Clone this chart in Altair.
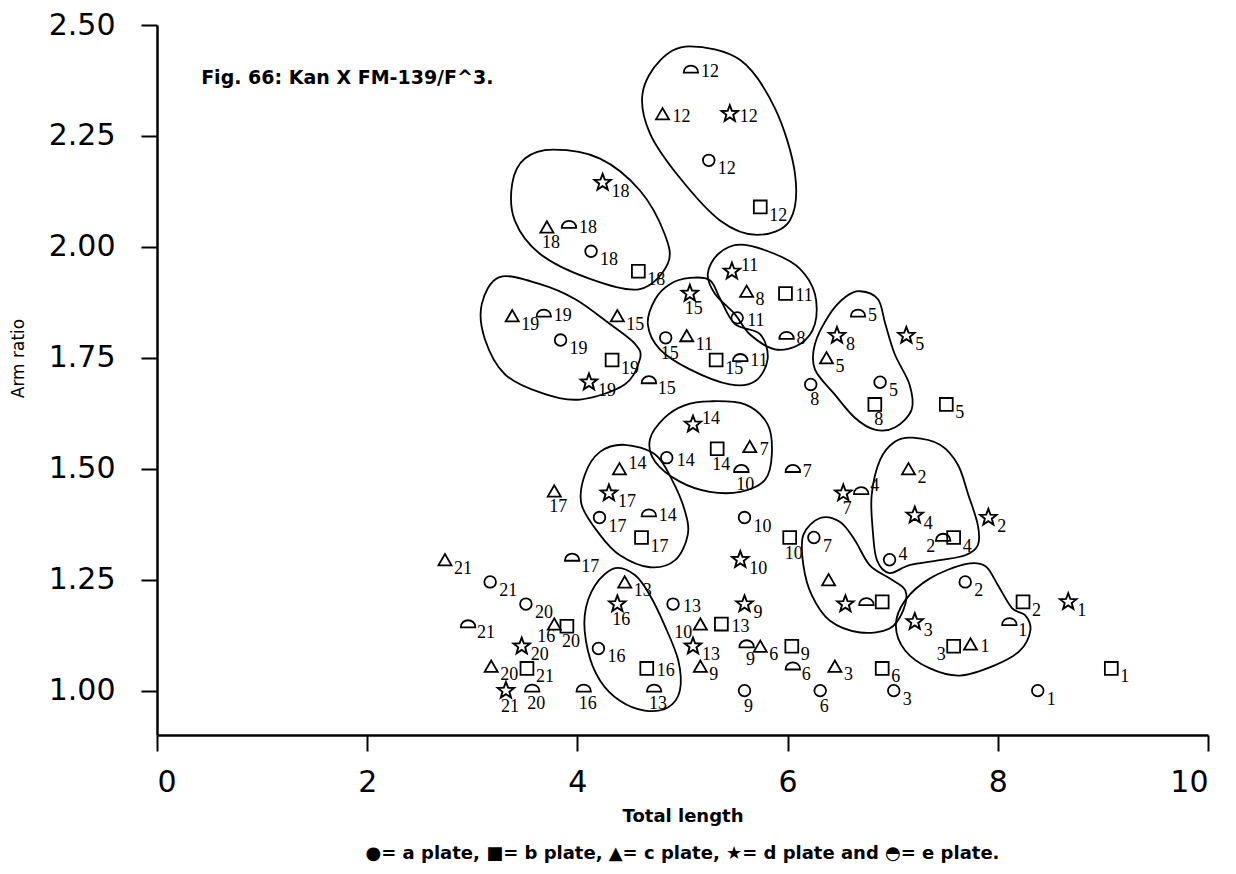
import altair as alt
import pandas as pd

# ---------------- data ----------------
NUMS = [str(i) for i in range(1, 22)]

# a plate (open circles), numbers 1..21
A_X = [8.38, 7.69, 7.01, 6.97, 6.88, 6.31, 6.25, 6.22, 5.59, 5.59, 5.52, 5.25, 4.91, 4.85, 4.84, 4.20, 4.21, 4.13, 3.84, 3.51, 3.17]
A_Y = [1.00, 1.245, 1.00, 1.295, 1.695, 1.00, 1.345, 1.69, 1.00, 1.39, 1.84, 2.195, 1.195, 1.525, 1.795, 1.095, 1.39, 1.99, 1.79, 1.195, 1.245]
A_L = NUMS

# b plate (open squares)
B_X = [9.08, 8.24, 7.58, 7.58, 7.51, 6.90, 6.90, 6.83, 6.04, 6.02, 5.98, 5.74, 5.37, 5.33, 5.32, 4.66, 4.61, 4.58, 4.33, 3.90, 3.52]
B_Y = [1.05, 1.20, 1.10, 1.345, 1.645, 1.05, 1.20, 1.645, 1.10, 1.345, 1.895, 2.09, 1.15, 1.545, 1.745, 1.05, 1.345, 1.945, 1.745, 1.145, 1.05]
B_L = ["1", "2", "3", "4", "5", "6", "", "8", "9", "10", "11", "12", "13", "14", "15", "16", "17", "18", "19", "20", "21"]

# c plate (open triangles)
C_X = [7.74, 7.15, 6.45, 6.39, 6.37, 5.74, 5.64, 5.61, 5.17, 5.17, 5.04, 4.81, 4.45, 4.40, 4.38, 3.78, 3.78, 3.71, 3.38, 3.18, 2.74]
C_Y = [1.105, 1.50, 1.055, 1.25, 1.75, 1.10, 1.55, 1.90, 1.055, 1.15, 1.80, 2.30, 1.245, 1.50, 1.845, 1.15, 1.45, 2.045, 1.845, 1.055, 1.295]
C_L = ["1", "2", "3", "", "5", "6", "7", "8", "9", "10", "11", "12", "13", "14", "15", "16", "17", "18", "19", "20", "21"]

# d plate (stars)
D_X = [8.67, 7.91, 7.21, 7.21, 7.13, 6.55, 6.53, 6.47, 5.59, 5.55, 5.47, 5.45, 5.10, 5.10, 5.07, 4.38, 4.30, 4.24, 4.11, 3.47, 3.32]
D_Y = [1.20, 1.39, 1.155, 1.395, 1.80, 1.195, 1.445, 1.80, 1.195, 1.295, 1.945, 2.30, 1.10, 1.60, 1.895, 1.195, 1.445, 2.145, 1.695, 1.10, 1.00]
D_L = ["1", "2", "3", "4", "5", "", "7", "8", "9", "10", "11", "12", "13", "14", "15", "16", "17", "18", "19", "20", "21"]

# e plate (half discs)
E_X = [8.11, 7.48, 6.75, 6.70, 6.67, 6.05, 6.05, 5.99, 5.61, 5.56, 5.55, 5.08, 4.73, 4.68, 4.68, 4.06, 3.95, 3.92, 3.68, 3.57, 2.96]
E_Y = [1.155, 1.345, 1.20, 1.45, 1.85, 1.055, 1.50, 1.80, 1.105, 1.50, 1.75, 2.40, 1.005, 1.40, 1.70, 1.005, 1.30, 2.05, 1.85, 1.005, 1.15]
E_L = ["1", "2", "", "4", "5", "6", "7", "8", "9", "10", "11", "12", "13", "14", "15", "16", "17", "18", "19", "20", "21"]

# where the handwritten number sits relative to its symbol (default: lower right)
LABEL_RIGHT = ["e12", "e18", "e19", "a13", "a14", "c7", "e8", "e11", "e7", "c1", "b13", "b16",
               "e14", "e5", "c12", "d12", "b11", "a11"]
LABEL_UP = ["d11", "d14", "a4", "e4", "c14"]
LABEL_BELOW = ["b20", "b10", "b14", "e10", "d15", "c17", "e13", "d21", "c18", "d7",
               "a15", "e9", "d16", "a9", "a6", "a8", "b8", "e20", "e16"]
LABEL_BELOW_LEFT = ["c16"]
LABEL_LEFT = ["e2", "b3", "c10"]

# hand-drawn enclosing curves, outline vertices in data units
BLOB_12 = [(5.07, 2.452), (5.55, 2.421), (5.88, 2.312), (6.07, 2.165), (6.02, 2.059), (5.71, 2.027),
           (5.36, 2.059), (4.98, 2.154), (4.69, 2.256), (4.62, 2.346), (4.79, 2.421)]
BLOB_18 = [(3.77, 2.219), (4.215, 2.199), (4.595, 2.127), (4.83, 2.029), (4.86, 1.962), (4.595, 1.905),
           (4.12, 1.928), (3.645, 1.984), (3.405, 2.059), (3.38, 2.143), (3.50, 2.199)]
BLOB_19 = [(3.26, 1.932), (3.645, 1.916), (3.98, 1.882), (4.31, 1.826), (4.55, 1.781), (4.595, 1.747),
           (4.45, 1.690), (4.025, 1.656), (3.645, 1.672), (3.31, 1.713), (3.12, 1.792), (3.09, 1.871)]
BLOB_15 = [(5.07, 1.930), (5.26, 1.925), (5.36, 1.882), (5.50, 1.826), (5.74, 1.803), (5.81, 1.747),
           (5.69, 1.697), (5.45, 1.690), (5.07, 1.724), (4.785, 1.769), (4.67, 1.826), (4.74, 1.882), (4.88, 1.916)]
BLOB_11 = [(5.55, 2.005), (5.88, 1.984), (6.12, 1.950), (6.26, 1.894), (6.26, 1.826), (6.12, 1.781),
           (5.88, 1.769), (5.64, 1.803), (5.50, 1.848), (5.31, 1.894), (5.24, 1.939), (5.34, 1.984)]
BLOB_5 = [(6.69, 1.900), (6.86, 1.882), (6.93, 1.826), (7.02, 1.758), (7.16, 1.690), (7.18, 1.633),
          (7.02, 1.593), (6.83, 1.588), (6.64, 1.615), (6.45, 1.667), (6.26, 1.724), (6.26, 1.781),
          (6.40, 1.848), (6.55, 1.887)]
BLOB_14 = [(5.26, 1.652), (5.595, 1.645), (5.81, 1.600), (5.85, 1.532), (5.785, 1.475), (5.55, 1.448),
           (5.26, 1.448), (4.975, 1.471), (4.74, 1.516), (4.69, 1.566), (4.83, 1.615), (5.02, 1.643)]
BLOB_17 = [(4.45, 1.554), (4.74, 1.532), (4.90, 1.475), (5.02, 1.407), (5.05, 1.351), (4.93, 1.294),
           (4.69, 1.278), (4.405, 1.305), (4.215, 1.351), (4.04, 1.419), (4.07, 1.486), (4.215, 1.538)]
BLOB_16 = [(4.36, 1.276), (4.55, 1.260), (4.69, 1.215), (4.83, 1.147), (4.96, 1.068), (4.975, 1.000),
           (4.86, 0.962), (4.64, 0.955), (4.405, 0.977), (4.215, 1.023), (4.10, 1.090), (4.07, 1.170), (4.17, 1.238)]
BLOB_4 = [(7.19, 1.570), (7.45, 1.554), (7.62, 1.509), (7.72, 1.441), (7.81, 1.373), (7.81, 1.328),
          (7.69, 1.305), (7.45, 1.294), (7.16, 1.283), (6.97, 1.265), (6.85, 1.294), (6.81, 1.362),
          (6.80, 1.441), (6.88, 1.520), (7.02, 1.561)]
BLOB_7 = [(6.31, 1.389), (6.50, 1.380), (6.64, 1.339), (6.78, 1.283), (6.97, 1.253), (7.12, 1.226),
          (7.10, 1.181), (6.97, 1.140), (6.69, 1.131), (6.40, 1.158), (6.23, 1.215), (6.15, 1.283), (6.15, 1.351)]
BLOB_1 = [(7.69, 1.285), (7.88, 1.281), (8.00, 1.238), (8.135, 1.186), (8.26, 1.170), (8.31, 1.136),
          (8.21, 1.090), (7.97, 1.057), (7.64, 1.034), (7.355, 1.050), (7.12, 1.090), (7.03, 1.147),
          (7.12, 1.204), (7.355, 1.253)]

X_TICKS = [0, 2, 4, 6, 8, 10]
Y_TICKS = [1.0, 1.25, 1.5, 1.75, 2.0, 2.25, 2.5]
CAPTION = "Fig. 66: Kan X FM-139/F^3."
CAPTION_POS = (0.42, 2.38)
LEGEND_TEXT = "\u25cf= a plate, \u25a0= b plate, \u25b2= c plate, \u2605= d plate and \u25d3= e plate."

# ---------------- build tables ----------------
plates = [("a", A_X, A_Y, A_L), ("b", B_X, B_Y, B_L), ("c", C_X, C_Y, C_L),
          ("d", D_X, D_Y, D_L), ("e", E_X, E_Y, E_L)]


def placement(key):
    if key in LABEL_RIGHT:
        return "r"
    if key in LABEL_UP:
        return "u"
    if key in LABEL_BELOW:
        return "b"
    if key in LABEL_BELOW_LEFT:
        return "bl"
    if key in LABEL_LEFT:
        return "l"
    return "d"


pts = pd.DataFrame([
    {"plate": p, "x": x, "y": y, "lab": l, "pl": placement(p + l)}
    for p, xs_, ys_, ls in plates for x, y, l in zip(xs_, ys_, ls)
])

blobs = {"12": BLOB_12, "18": BLOB_18, "19": BLOB_19, "15": BLOB_15, "11": BLOB_11,
         "5": BLOB_5, "14": BLOB_14, "17": BLOB_17, "16": BLOB_16, "4": BLOB_4,
         "7": BLOB_7, "1": BLOB_1}
blob_df = pd.DataFrame([
    {"blob": k, "i": i, "x": x, "y": y}
    for k, v in blobs.items() for i, (x, y) in enumerate(v)
])

cap_df = pd.DataFrame({"x": [CAPTION_POS[0]], "y": [CAPTION_POS[1]], "t": [CAPTION]})

xs = alt.Scale(domain=[0, 10], nice=False, zero=False)
ys = alt.Scale(domain=[0.9, 2.5], nice=False, zero=False)

X_AXIS = alt.Axis(values=X_TICKS, format="d", grid=False, title="Total length",
                  labelFont="DejaVu Sans", labelFontSize=30, labelColor="black",
                  labelPadding=16, tickSize=16, tickWidth=2, tickColor="black",
                  domainColor="black", domainWidth=2.5,
                  titleFont="DejaVu Sans", titleFontSize=18, titleFontWeight="bold",
                  titleColor="black", titleY=81, titleBaseline="middle")
Y_AXIS = alt.Axis(values=Y_TICKS, format=".2f", grid=False, title="Arm ratio",
                  labelFont="DejaVu Sans", labelFontSize=30, labelColor="black",
                  labelPadding=26, tickSize=16, tickWidth=2, tickColor="black",
                  domainColor="black", domainWidth=2.5,
                  titleFont="DejaVu Sans", titleFontSize=17, titleFontWeight="normal",
                  titleColor="black", titleAngle=270, titleX=-139, titleY=333,
                  titleAlign="center", titleBaseline="middle")

base_x = alt.X("x:Q", scale=xs, axis=X_AXIS)
base_y = alt.Y("y:Q", scale=ys, axis=Y_AXIS)

curves = alt.Chart(blob_df).mark_line(
    interpolate="cardinal-closed", color="black", strokeWidth=1.8
).encode(x=base_x, y=base_y, detail="blob:N", order="i:Q")

STAR = ("M0,-1 L0.247,-0.34 L0.951,-0.309 L0.399,0.13 L0.588,0.809 L0,0.42 "
        "L-0.588,0.809 L-0.399,0.13 L-0.951,-0.309 L-0.247,-0.34 Z")
DOME = "M-1,0.45 C-1,-0.85 1,-0.85 1,0.45 Z"
shape_of = {"a": ("circle", 135, 1.8), "b": ("square", 165, 1.8), "c": ("triangle-up", 170, 1.8),
            "d": (STAR, 300, 1.9), "e": (DOME, 210, 1.8)}

layers = [curves]
for p in ["a", "b", "c", "d", "e"]:
    shp, sz, sw = shape_of[p]
    layers.append(
        alt.Chart(pts).transform_filter(alt.datum.plate == p).mark_point(
            shape=shp, size=sz, filled=False, color="black", strokeWidth=sw, opacity=1
        ).encode(x=base_x, y=base_y)
    )

label_style = {"d": ("left", 9, 9), "r": ("left", 10, 3), "u": ("left", 9, -5),
               "b": ("center", 4, 16), "bl": ("right", 1, 13), "l": ("right", -8, 9)}
for key, (al, ddx, ddy) in label_style.items():
    layers.append(
        alt.Chart(pts).transform_filter(alt.datum.pl == key).mark_text(
            align=al, baseline="middle", dx=ddx, dy=ddy, font="Liberation Serif",
            fontSize=18, color="black"
        ).encode(x=base_x, y=base_y, text="lab:N")
    )

caption = alt.Chart(cap_df).mark_text(
    align="left", baseline="middle", font="DejaVu Sans", fontSize=19,
    fontWeight="bold", color="black"
).encode(x=base_x, y=base_y, text="t:N")
layers.append(caption)

chart = alt.layer(*layers).properties(
    width=1051, height=710,
    autosize=alt.AutoSizeParams(type="none"),
    padding={"left": 149, "top": 17, "right": 8, "bottom": 131},
    title=alt.TitleParams(text=LEGEND_TEXT, orient="bottom", anchor="middle",
                          font="DejaVu Sans", fontSize=18, fontWeight="bold",
                          color="black", offset=20),
    background="white",
).configure_view(strokeWidth=0)

chart.save("out.html", embed_options={"renderer": "svg", "actions": False})
